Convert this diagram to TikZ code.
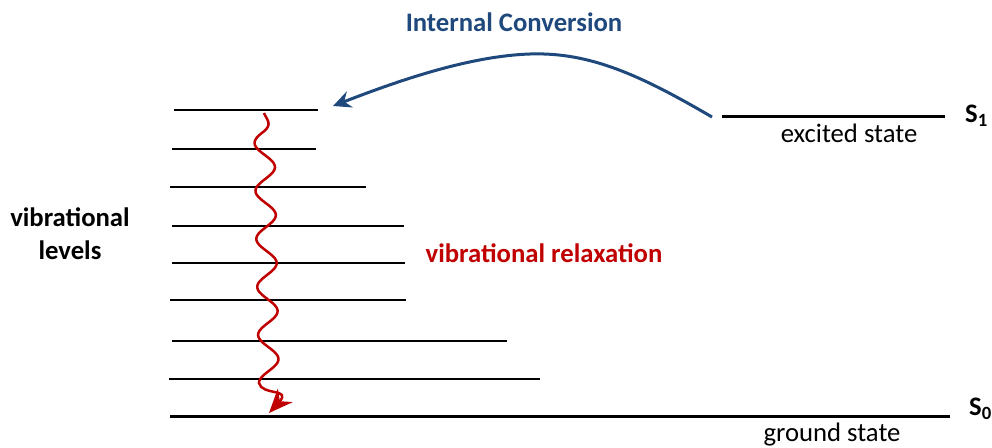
\documentclass[tikz,border=0pt]{standalone}
\usepackage{fontspec}
\setmainfont{Carlito}
\usetikzlibrary{arrows.meta}
\definecolor{icblue}{HTML}{1F497D}
\definecolor{vrred}{HTML}{C00000}
\begin{document}
\begin{tikzpicture}[x=1pt,y=-1pt,
  level/.style={line width=2pt,black},
  state/.style={line width=3pt,black},
  lbl/.style={font=\fontsize{26.7}{33}\selectfont,inner sep=0pt},
  blbl/.style={font=\fontsize{26.7}{33}\selectfont\bfseries,inner sep=0pt}]
\useasboundingbox (0,0) rectangle (992,447);
% vibrational levels
\foreach \n/\xa/\xb/\y in {1/174/318/110, 2/172/316/149, 3/170/366/187, 4/172/404/226,
  5/172/405/263, 6/170/406/300, 7/172/507/341, 8/169/540/379}{
  \coordinate (l\n a) at (\xa,\y);
  \coordinate (l\n b) at (\xb,\y);
  \draw[level] (l\n a) -- (l\n b);
}
\coordinate (g0a) at (170,416); \coordinate (g0b) at (950,416);
\draw[state] (g0a) -- (g0b);
\coordinate (s1a) at (722,116); \coordinate (s1b) at (945,116);
\draw[state] (s1a) -- (s1b);
% labels
\node[blbl,anchor=west] (S1) at (965,116) {S\textsubscript{1}};
\node[lbl] (exc) at (849,133) {excited state};
\node[blbl,anchor=west] (S0) at (969,409) {S\textsubscript{0}};
\node[lbl] (gnd) at (832,435) {ground state};
\node[blbl,align=center] (vl) at (70,234) {vibrational\\levels};
\node[blbl,text=vrred] (vr) at (544,253) {vibrational relaxation};
\node[blbl,text=icblue] (ic) at (514,22) {Internal Conversion};
% internal conversion arrow
\coordinate (icstart) at (712,117);
\coordinate (icpeak) at (530,54);
\coordinate (icend) at (333,106);
\draw[icblue,line width=3pt,-{Stealth[length=18pt,width=17pt,inset=6pt]}]
  (icstart) .. controls (640,75) and (590,52) .. (icpeak)
  .. controls (470,56) and (400,80) .. (icend);
% vibrational relaxation wavy arrow
\coordinate (vrstart) at (264,113);
\coordinate (vrtip) at (269,413);
\draw[vrred,line width=2.5pt,-{Stealth[length=24pt,width=20pt,inset=8pt]}]
  plot[domain=0:270,samples=120,smooth]
    ({264+5*\x/272-10*min(1,\x/20)*sin(7.5*(\x-18))},{113+\x})
  .. controls (262,396) and (292,388) .. (vrtip);
\end{tikzpicture}
\end{document}
